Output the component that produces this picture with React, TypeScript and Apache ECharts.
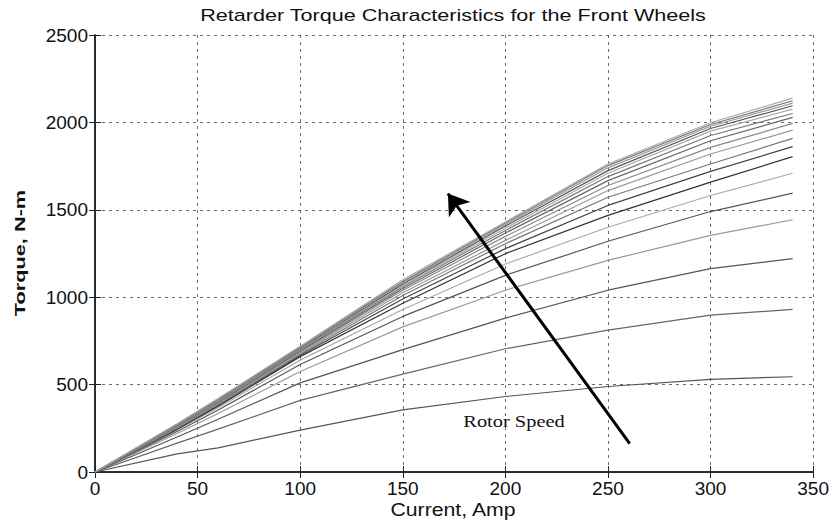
import React, { useEffect, useRef } from "react";
import * as echarts from "echarts";

const current = [0, 40, 60, 100, 150, 200, 250, 300, 340];

const curve1 = [0, 104, 138, 240, 355, 432, 489, 530, 545];
const curve2 = [0, 165, 245, 410, 560, 705, 812, 897, 930];
const curve3 = [0, 200, 302, 510, 700, 880, 1040, 1163, 1221];
const curve4 = [0, 220, 335, 575, 830, 1040, 1211, 1354, 1443];
const curve5 = [0, 232, 355, 615, 890, 1125, 1320, 1490, 1595];
const curve6 = [0, 240, 368, 640, 930, 1190, 1400, 1582, 1709];
const curve7 = [0, 244, 376, 660, 965, 1249, 1468, 1658, 1804];
const curve8 = [0, 248, 382, 668, 990, 1278, 1525, 1720, 1861];
const curve9 = [0, 252, 387, 675, 1010, 1306, 1572, 1762, 1909];
const curve10 = [0, 254, 391, 682, 1025, 1325, 1610, 1819, 1956];
const curve11 = [0, 258, 395, 688, 1040, 1348, 1639, 1857, 1994];
const curve12 = [0, 260, 399, 694, 1050, 1367, 1667, 1895, 2029];
const curve13 = [0, 262, 402, 700, 1060, 1382, 1690, 1925, 2051];
const curve14 = [0, 265, 406, 704, 1068, 1395, 1709, 1950, 2076];
const curve15 = [0, 268, 410, 708, 1075, 1407, 1724, 1965, 2095];
const curve16 = [0, 270, 413, 712, 1082, 1416, 1740, 1978, 2110];
const curve17 = [0, 273, 417, 716, 1090, 1424, 1753, 1988, 2124];
const curve18 = [0, 276, 420, 720, 1100, 1430, 1762, 1998, 2139];

const curves = [
  curve1, curve2, curve3, curve4, curve5, curve6, curve7, curve8, curve9,
  curve10, curve11, curve12, curve13, curve14, curve15, curve16, curve17, curve18,
];

const lineColors = [
  "#555", "#666", "#555", "#999", "#555", "#aaa", "#333", "#444", "#777",
  "#999", "#888", "#666", "#777", "#aaa", "#555", "#999", "#777", "#aaa",
];

const arrowStart = [260.6, 163];
const arrowEnd = [172, 1593];

const titleText = "Retarder Torque Characteristics for the Front Wheels";
const xName = "Current, Amp";
const yName = "Torque, N-m";
const annotation = "Rotor Speed";

export default function App() {
  const ref = useRef<HTMLDivElement>(null);
  useEffect(() => {
    if (!ref.current) return;
    const chart = echarts.init(ref.current, null, { renderer: "svg" });
    const font = "'Liberation Sans', Arial, Helvetica, sans-serif";
    const gridLine = { show: true, lineStyle: { color: "#444", width: 0.8, type: [3, 4] as any } };
    const series: any[] = curves.map((c, i) => ({
      type: "line",
      name: "s" + (i + 1),
      data: current.map((x, j) => [x, c[j]]),
      showSymbol: false,
      symbol: "none",
      lineStyle: { color: lineColors[i], width: 1.2 },
      itemStyle: { color: lineColors[i] },
      silent: true,
      z: 3,
    }));
    series[0].markLine = {
      silent: true,
      symbol: ["none", "arrow"],
      symbolSize: 20,
      label: { show: false },
      itemStyle: { color: "#000" },
      lineStyle: { color: "#000", width: 3, type: "solid" },
      data: [[{ coord: arrowStart, symbol: "none" }, { coord: arrowEnd, symbol: "arrow", symbolSize: 20 }]],
      z: 5,
    };
    chart.setOption({
      animation: false,
      backgroundColor: "#fff",
      grid: { left: 95, right: 17, top: 35, bottom: 53, containLabel: false },
      xAxis: [
        {
          type: "value",
          min: 0,
          max: 350,
          interval: 50,
          axisLine: { show: true, lineStyle: { color: "#222", width: 1.5 } },
          axisTick: { show: true, inside: true, length: 6, lineStyle: { color: "#222" } },
          axisLabel: { fontFamily: font, fontSize: 19, color: "#111", margin: 7 },
          splitLine: gridLine,
        },
        {
          type: "value",
          position: "top",
          min: 0,
          max: 350,
          interval: 50,
          axisLine: { show: true, lineStyle: { color: "#222", width: 1.5 } },
          axisTick: { show: true, inside: true, length: 6, lineStyle: { color: "#222" } },
          axisLabel: { show: false },
          splitLine: { show: false },
        },
      ],
      yAxis: [
        {
          type: "value",
          min: 0,
          max: 2500,
          interval: 500,
          axisLine: { show: true, lineStyle: { color: "#222", width: 1.5 } },
          axisTick: { show: true, inside: true, length: 6, lineStyle: { color: "#222" } },
          axisLabel: {
            fontFamily: font,
            fontSize: 19,
            color: "#111",
            margin: 7,
            formatter: (v: number) => String(v),
          },
          splitLine: gridLine,
        },
        {
          type: "value",
          position: "right",
          min: 0,
          max: 2500,
          interval: 500,
          axisLine: { show: true, lineStyle: { color: "#222", width: 1.5 } },
          axisTick: { show: true, inside: true, length: 6, lineStyle: { color: "#222" } },
          axisLabel: { show: false },
          splitLine: { show: false },
        },
      ],
      graphic: [
        {
          type: "text",
          x: 453,
          y: 15,
          scaleX: 1.27,
          style: {
            text: titleText,
            font: "17px 'Liberation Sans', Arial, sans-serif",
            fill: "#111",
            align: "center",
            verticalAlign: "middle",
          },
        },
        {
          type: "text",
          x: 453,
          y: 510,
          scaleX: 1.18,
          style: {
            text: xName,
            font: "18px 'Liberation Sans', Arial, sans-serif",
            fill: "#111",
            align: "center",
            verticalAlign: "middle",
          },
        },
        {
          type: "text",
          x: 20,
          y: 253,
          rotation: Math.PI / 2,
          scaleX: 1.45,
          style: {
            text: yName,
            font: "bold 15px 'Liberation Sans', Arial, sans-serif",
            fill: "#111",
            align: "center",
            verticalAlign: "middle",
          },
        },
        {
          type: "text",
          x: 514,
          y: 421,
          scaleX: 1.2,
          style: {
            text: annotation,
            font: "17px 'Liberation Serif', 'Times New Roman', serif",
            fill: "#111",
            align: "center",
            verticalAlign: "middle",
          },
          z: 10,
        },
      ],
      series,
    });
    return () => chart.dispose();
  }, []);
  return (
    <div
      ref={ref}
      style={{ position: "fixed", left: 0, top: 0, width: 832, height: 525 }}
    />
  );
}
